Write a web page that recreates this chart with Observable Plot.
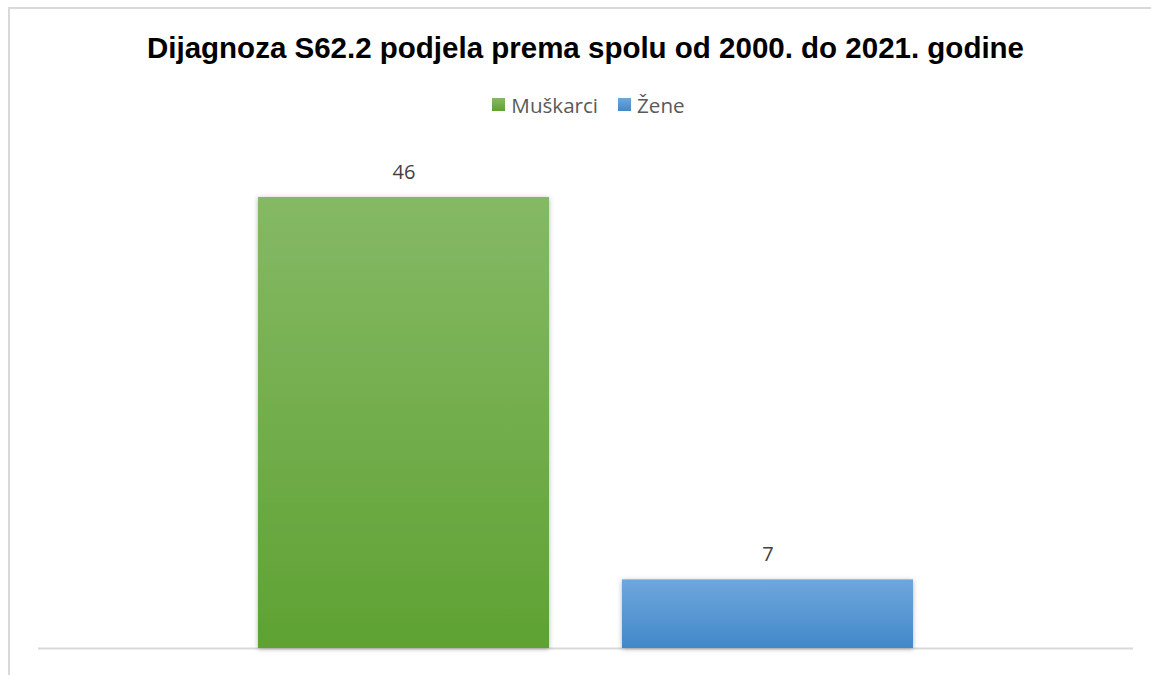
<!DOCTYPE html>
<html>
<head>
<meta charset="utf-8">
<script src="https://cdn.jsdelivr.net/npm/d3@7"></script>
<script src="https://cdn.jsdelivr.net/npm/@observablehq/plot@0.6"></script>
<style>
  html, body { margin: 0; padding: 0; background: #fff; }
  #wrap { position: relative; width: 1151px; height: 675px; overflow: hidden; }
  .bl { position: absolute; left: 8px; top: 7px; width: 2px; height: 668px; background: #d9d9d9; }
  .bt { position: absolute; left: 8px; top: 7px; width: 1143px; height: 2px; background: #d9d9d9; }
  #header { position: relative; height: 130px; }
  #title { position: absolute; left: 10px; width: 1151px; top: 31px; text-align: center;
    font-family: "Liberation Sans", Arial, sans-serif; font-weight: bold; font-size: 29.5px; color: #000; line-height: 34px; }
  #legend { position: absolute; left: 13px; width: 1151px; top: 90px; text-align: center;
    font-family: "Open Sans", sans-serif; font-size: 20.6px; color: #595959; line-height: 26px; }
  .item { display: inline-flex; align-items: center; margin: 0 10px; }
  .sw { display: inline-block; width: 13px; height: 13px; margin-right: 6px; }
  #chart { position: absolute; left: 0; top: 130px; }
</style>
</head>
<body>
<div id="wrap">
  <div class="bl"></div><div class="bt"></div>
  <div id="header">
    <div id="title"></div>
    <div id="legend"></div>
  </div>
  <div id="chart"></div>
</div>
<script>
const titleText = "Dijagnoza S62.2 podjela prema spolu od 2000. do 2021. godine";
const categories = ["Muškarci", "Žene"];
const values = [46, 7];
const gradTop = ["#85b965", "#6fa7dc"];
const gradBottom = ["#5fa232", "#4288ca"];

document.getElementById("title").textContent = titleText;
const legend = document.getElementById("legend");
categories.forEach((c, i) => {
  const it = document.createElement("span");
  it.className = "item";
  const sw = document.createElement("span");
  sw.className = "sw";
  sw.style.background = `linear-gradient(${gradTop[i]}, ${gradBottom[i]})`;
  const t = document.createElement("span");
  t.textContent = c;
  it.appendChild(sw); it.appendChild(t);
  legend.appendChild(it);
});

const data = categories.map((c, i) => ({cat: c, value: values[i], idx: i}));

const defs = () => {
  const g = d3.create("svg:defs");
  categories.forEach((c, i) => {
    const lg = g.append("linearGradient").attr("id", "grad" + i)
      .attr("x1", 0).attr("y1", 0).attr("x2", 0).attr("y2", 1);
    lg.append("stop").attr("offset", "0%").attr("stop-color", gradTop[i]);
    lg.append("stop").attr("offset", "100%").attr("stop-color", gradBottom[i]);
  });
  const f = g.append("filter").attr("id", "shadow").attr("x", "-10%").attr("y", "-10%").attr("width", "120%").attr("height", "120%");
  f.append("feDropShadow").attr("dx", 0).attr("dy", 1).attr("stdDeviation", 2.5).attr("flood-color", "#000").attr("flood-opacity", 0.3);
  return g.node();
};

const chart = Plot.plot({
  width: 1151,
  height: 545,
  marginLeft: 38,
  marginRight: 18,
  marginTop: 0,
  marginBottom: 27,
  x: {domain: categories, range: [220.75, 949.75], paddingInner: 0.2, paddingOuter: 0.1, axis: null},
  y: {domain: [0, 46], range: [518, 67], axis: null},
  marks: [
    defs,
    Plot.ruleY([0], {stroke: "#d9d9d9", strokeWidth: 2}),
    ...categories.map((c, i) => Plot.barY(data.filter(d => d.idx === i), {
      x: "cat", y: "value", fill: `url(#grad${i})`,
      render: (index, scales, values, dims, context, next) => {
        const el = next(index, scales, values, dims, context);
        el.setAttribute("filter", "url(#shadow)");
        return el;
      }
    })),
    Plot.text(data, {x: "cat", y: "value", text: d => String(d.value), dy: -25,
      fontSize: 20, fill: "#404040", fontFamily: "Open Sans, sans-serif"})
  ],
  style: {background: "transparent", overflow: "visible"}
});
document.getElementById("chart").appendChild(chart);
</script>
</body>
</html>
